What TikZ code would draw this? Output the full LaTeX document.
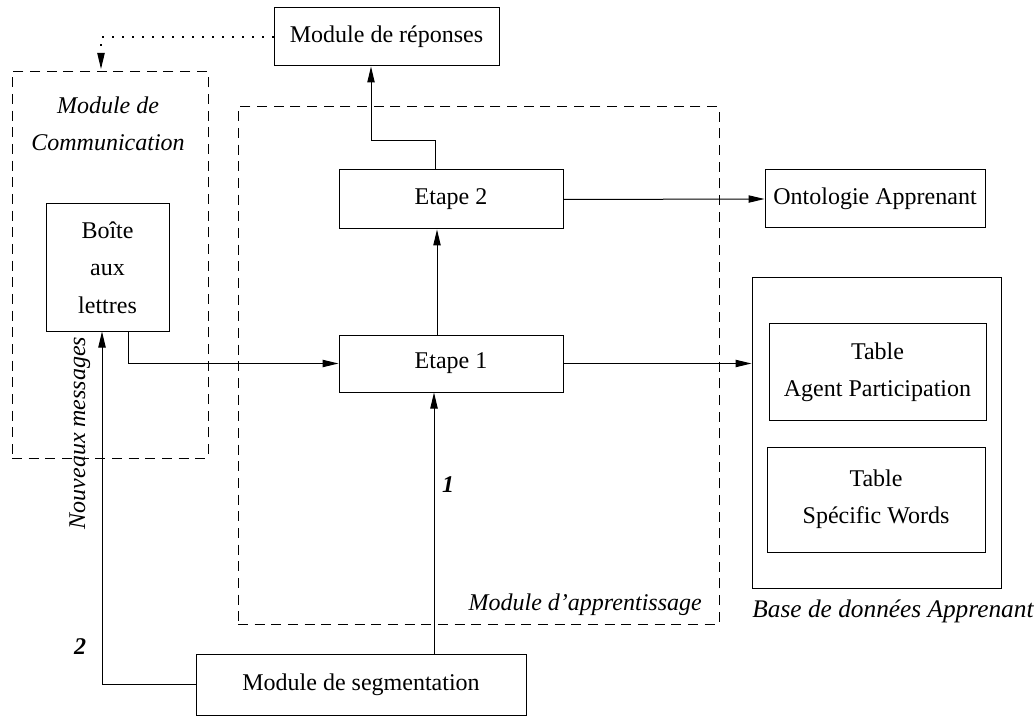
\documentclass[tikz,border=0pt]{standalone}
\usepackage{fontspec}
\setmainfont{Liberation Serif}
\usetikzlibrary{arrows.meta,calc}
\begin{document}
\begin{tikzpicture}[x=0.75pt,y=-0.75pt,
  font=\fontsize{18}{28}\selectfont,
  sz/.style 2 args={minimum width=#1*0.75pt, minimum height=#2*0.75pt},
  box/.style={draw, line width=0.75pt, inner sep=0pt, align=center},
  grp/.style={draw, dash pattern=on 7.5pt off 5pt, line width=0.75pt, inner sep=0pt},
  arr/.style={line width=0.75pt, -{Triangle[length=12pt,width=5.5pt]}},
  dots/.style={line width=0.9pt, dash pattern=on 0.8pt off 6.7pt, -{Triangle[length=12pt,width=5.5pt]}},
  lbl/.style={font=\fontsize{18}{28}\selectfont\itshape, inner sep=0pt, align=center},
  num/.style={font=\fontsize{18}{28}\selectfont\bfseries\itshape, inner sep=0pt}]
\useasboundingbox (0,0) rectangle (1034,716);
% groups
\node[grp, sz={196}{386}] (comm) at (110,265) {};
\node[grp, sz={481}{517}] (app) at (478.5,365.5) {};
% boxes
\node[box, sz={225}{58}] (rep) at (386.5,37) {Module de réponses};
\node[box, sz={224}{59}] (e2) at (451,199.5) {\raisebox{-3pt}{Etape 2}};
\node[box, sz={224}{57}] (e1) at (451,363.5) {\raisebox{-1.5pt}{Etape 1}};
\node[box, sz={123}{127}] (boite) at (107.5,267.5) {Boîte\\aux\\lettres};
\node[box, sz={330}{61}] (seg) at (361,684.5) {Module de segmentation};
\node[box, sz={220}{58}] (onto) at (875,199) {Ontologie Apprenant};
\node[box, sz={249}{310}] (base) at (876.5,433) {};
\node[box, sz={217}{96}] (tap) at (877.5,372) {\raisebox{-3pt}{Table}\\\raisebox{-3pt}{Agent Participation}};
\node[box, sz={218}{105}] (tsw) at (876,499.5) {\raisebox{-3pt}{Table}\\\raisebox{-3pt}{Spécific Words}};
% labels
\node[lbl] (commlbl) at (108,124) {Module de\\Communication};
\node[lbl, anchor=base east] (applbl) at (702,610) {Module d'apprentissage};
\node[lbl, font=\fontsize{19}{28}\selectfont\itshape] (baselbl) at (893,611) {Base de données Apprenant};
\node[lbl, rotate=90, anchor=base] (nouv) at (85,433) {Nouveaux messages};
\node[num] (n1) at (448,485) {1};
\node[num] (n2) at (80,647) {2};
% helper coordinates
\coordinate (dt) at (101,69);
\coordinate (k1) at (435,141);
\coordinate (k2) at (371,141);
\coordinate (c437) at (437,0);
\coordinate (c434) at (434,0);
\coordinate (c128) at (128,0);
\coordinate (c102) at (102,0);
% connectors
\draw[dots] (rep.west) -| (dt);
\draw[arr] (e2.north -| k1) -- (k1) -- (k2) -- (rep.south -| k2);
\draw[arr] (e1.north -| c437) -- (e2.south -| c437);
\draw[arr] (seg.north -| c434) -- (e1.south -| c434);
\draw[arr] (boite.south -| c128) |- (e1.west);
\draw[arr] (seg.west) -| (boite.south -| c102);
\draw[arr] (e2.east) -- (onto.west);
\draw[arr] (e1.east) -- (base.west |- e1.east);
\end{tikzpicture}
\end{document}
